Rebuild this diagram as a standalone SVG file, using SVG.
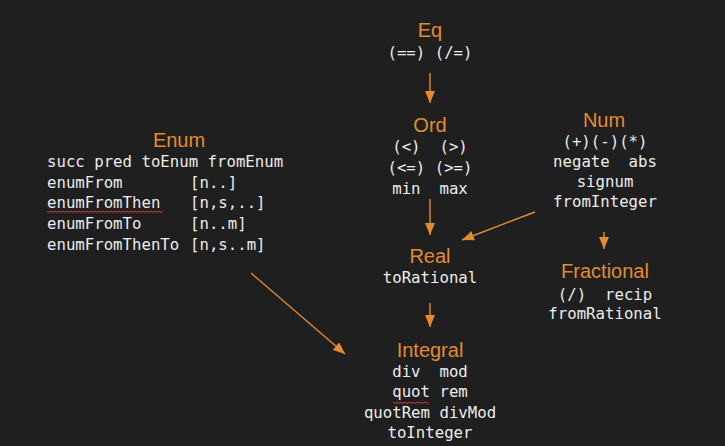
<svg xmlns="http://www.w3.org/2000/svg" width="725" height="446" viewBox="0 0 725 446">
<defs>
<style>
.t{font-family:"Liberation Sans",Arial,sans-serif;font-size:20px;fill:#e38b2f;text-anchor:middle}
.m{font-family:"DejaVu Sans Mono","Liberation Mono",monospace;font-size:15.7px;fill:#ececec;text-anchor:middle}
.l{text-anchor:start}
.c{stroke:#e38b2f;stroke-width:1.4;fill:none}
.sq{stroke:#d43a3a;stroke-width:1;fill:none}
</style>
<marker id="ah" viewBox="0 0 12 10" refX="12" refY="5" markerWidth="12" markerHeight="10" markerUnits="userSpaceOnUse" orient="auto">
<path d="M0,0 L12,5 L0,10 Z" fill="#e38b2f"/>
</marker>
</defs>
<rect width="725" height="446" fill="#1f1f1f"/>
<g id="connectors">
<line class="c" x1="430" y1="73" x2="430" y2="103" marker-end="url(#ah)"/>
<line class="c" x1="430" y1="199" x2="430" y2="235" marker-end="url(#ah)"/>
<line class="c" x1="430" y1="303" x2="430" y2="327" marker-end="url(#ah)"/>
<line class="c" x1="604" y1="232" x2="604" y2="249" marker-end="url(#ah)"/>
<line class="c" x1="535" y1="212" x2="462" y2="240" marker-end="url(#ah)"/>
<line class="c" x1="251" y1="273" x2="345" y2="354" marker-end="url(#ah)"/>
</g>
<g id="eq">
<text class="t" x="430" y="37">Eq</text>
<text class="m" x="430" y="58" xml:space="preserve">(==) (/=)</text>
</g>
<g id="ord">
<text class="t" x="430" y="132">Ord</text>
<text class="m" x="430" y="152" xml:space="preserve">(&lt;)  (&gt;)</text>
<text class="m" x="430" y="173" xml:space="preserve">(&lt;=) (&gt;=)</text>
<text class="m" x="430" y="194" xml:space="preserve">min  max</text>
</g>
<g id="num">
<text class="t" x="604" y="127">Num</text>
<text class="m" x="605" y="147">(+)(-)(*)</text>
<text class="m" x="605" y="167" xml:space="preserve">negate  abs</text>
<text class="m" x="605" y="187">signum</text>
<text class="m" x="605" y="207">fromInteger</text>
</g>
<g id="enum">
<text class="t" x="179" y="147">Enum</text>
<text class="m l" x="47" y="167">succ pred toEnum fromEnum</text>
<text class="m l" x="47" y="188">enumFrom</text>
<text class="m l" x="190" y="188">[n..]</text>
<text class="m l" x="47" y="208">enumFromThen</text>
<text class="m l" x="190" y="208">[n,s,..]</text>
<text class="m l" x="47" y="229">enumFromTo</text>
<text class="m l" x="190" y="229">[n..m]</text>
<text class="m l" x="47" y="250">enumFromThenTo</text>
<text class="m l" x="190" y="250">[n,s..m]</text>
<path class="sq" d="M47,211 l2,1.5 l2,-1.5 l2,1.5 l2,-1.5 l2,1.5 l2,-1.5 l2,1.5 l2,-1.5 l2,1.5 l2,-1.5 l2,1.5 l2,-1.5 l2,1.5 l2,-1.5 l2,1.5 l2,-1.5 l2,1.5 l2,-1.5 l2,1.5 l2,-1.5 l2,1.5 l2,-1.5 l2,1.5 l2,-1.5 l2,1.5 l2,-1.5 l2,1.5 l2,-1.5 l2,1.5 l2,-1.5 l2,1.5 l2,-1.5 l2,1.5 l2,-1.5 l2,1.5 l2,-1.5 l2,1.5 l2,-1.5 l2,1.5 l2,-1.5 l2,1.5 l2,-1.5 l2,1.5 l2,-1.5 l2,1.5 l2,-1.5 l2,1.5 l2,-1.5 l2,1.5 l2,-1.5 l2,1.5 l2,-1.5 l2,1.5 l2,-1.5 l2,1.5 l2,-1.5 l2,1.5 l2,-1.5"/>
</g>
<g id="real">
<text class="t" x="430" y="263">Real</text>
<text class="m" x="430" y="283">toRational</text>
</g>
<g id="fractional">
<text class="t" x="605" y="278">Fractional</text>
<text class="m" x="605" y="300" xml:space="preserve">(/)  recip</text>
<text class="m" x="605" y="319">fromRational</text>
</g>
<g id="integral">
<text class="t" x="430" y="357">Integral</text>
<text class="m" x="430" y="377" xml:space="preserve">div  mod</text>
<text class="m" x="430" y="397" xml:space="preserve">quot rem</text>
<text class="m" x="430" y="418">quotRem divMod</text>
<text class="m" x="430" y="438">toInteger</text>
<path class="sq" d="M393,402 l2,1.5 l2,-1.5 l2,1.5 l2,-1.5 l2,1.5 l2,-1.5 l2,1.5 l2,-1.5 l2,1.5 l2,-1.5 l2,1.5 l2,-1.5 l2,1.5 l2,-1.5 l2,1.5 l2,-1.5 l2,1.5 l2,-1.5"/>
</g>
</svg>
